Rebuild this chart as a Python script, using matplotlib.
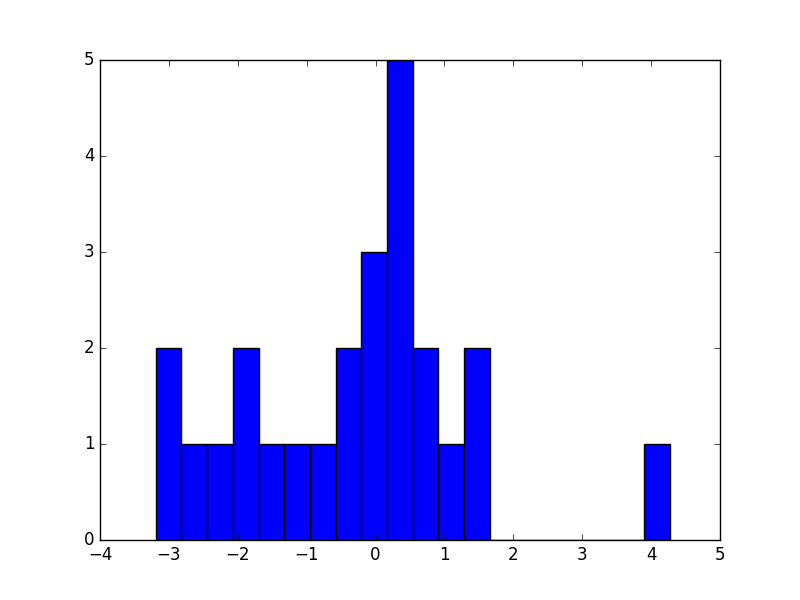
import numpy as np
import matplotlib
matplotlib.use('Agg')
import matplotlib.pyplot as plt

# histogram: 20 equal bins
bin_lo = -3.19
bin_hi = 4.27
counts = [2, 1, 1, 2, 1, 1, 1, 2, 3, 5, 2, 1, 2, 0, 0, 0, 0, 0, 0, 1]

plt.style.use('classic')

edges = np.linspace(bin_lo, bin_hi, len(counts) + 1)
centers = (edges[:-1] + edges[1:]) / 2

fig, ax = plt.subplots(figsize=(8, 6), dpi=100)
ax.hist(centers, bins=edges, weights=counts, color='blue', edgecolor='black')
ax.set_xlim(-4, 5)
ax.set_ylim(0, 5)

fig.savefig('out.png', dpi=100, facecolor='white')
